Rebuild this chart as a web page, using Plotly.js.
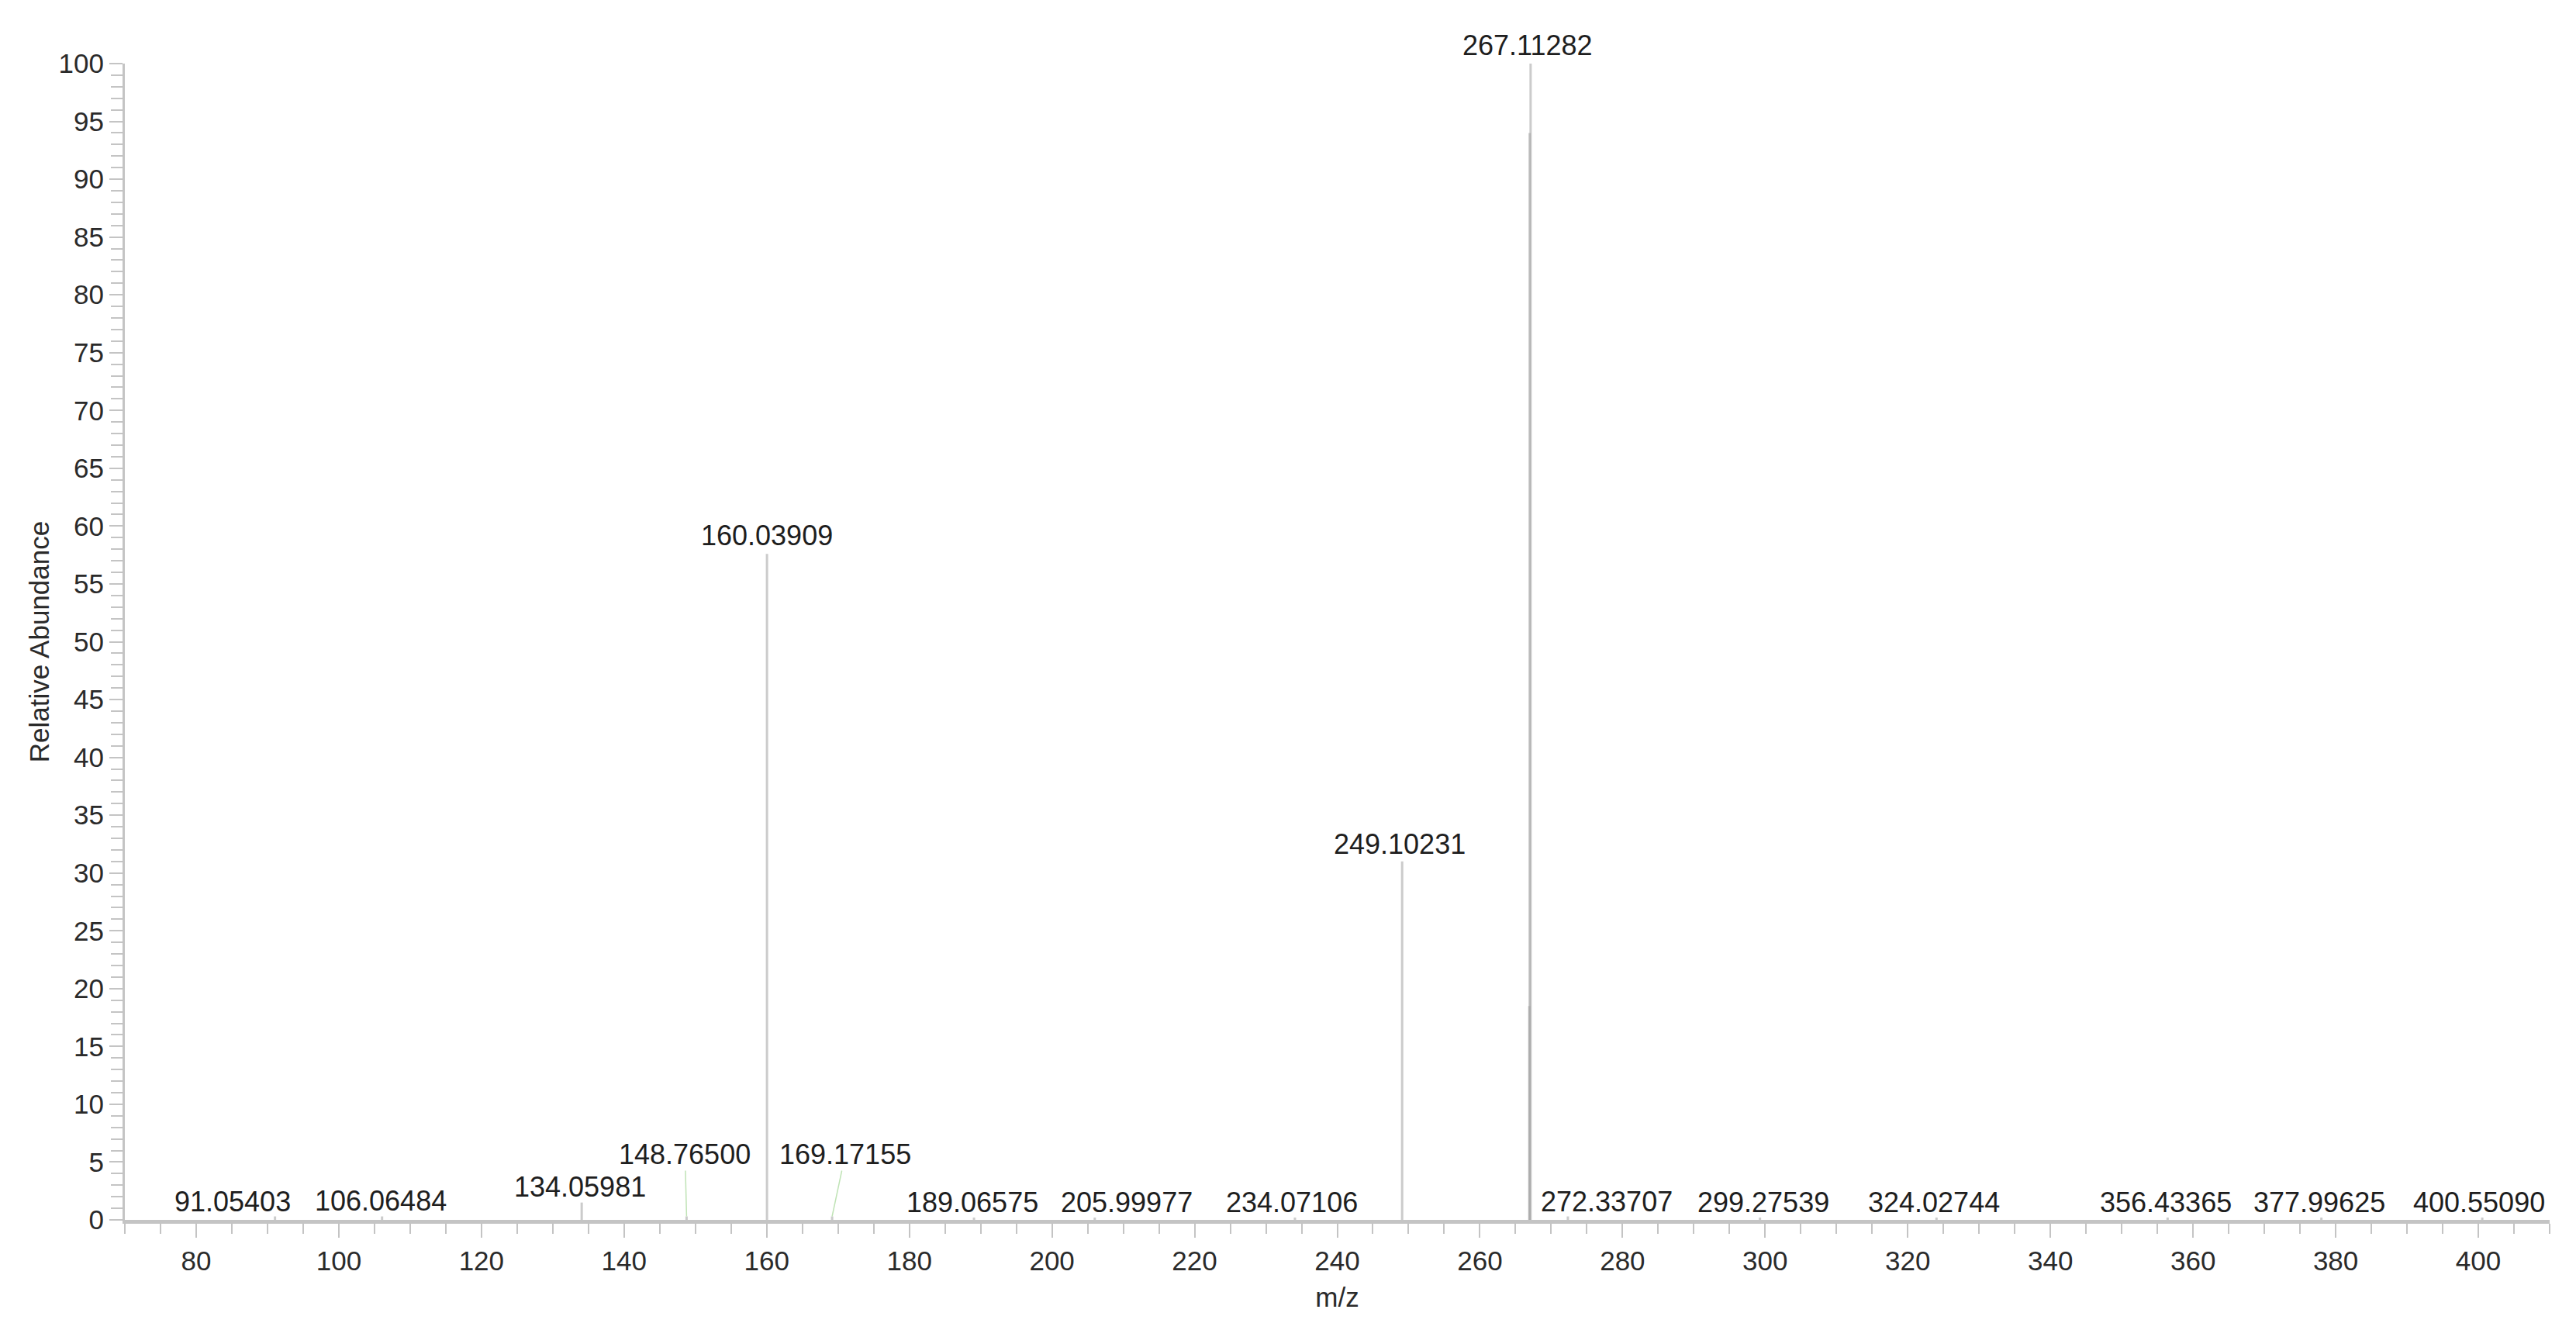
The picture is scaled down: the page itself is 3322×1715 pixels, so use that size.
<!DOCTYPE html>
<html>
<head>
<meta charset="utf-8">
<script src="https://cdn.plot.ly/plotly-3.0.1.min.js"></script>
<style>
  html, body { margin: 0; padding: 0; background: #ffffff; }
  #chart { width: 3322px; height: 1715px; }
</style>
</head>
<body>
<div id="chart"></div>
<script>
// ---- data ----
const peakMz = [91.05403, 106.06484, 134.05981, 148.76500, 160.03909, 169.17155, 189.06575, 205.99977,
                234.07106, 249.10231, 267.11282, 272.33707, 299.27539, 324.02744, 356.43365, 377.99625, 400.55090];
const peakAbundance = [0.3, 0.3, 1.5, 0.3, 57.6, 0.3, 0.2, 0.2,
                       0.2, 31.0, 100, 0.3, 0.2, 0.2, 0.2, 0.2, 0.2];
const peakLabels = ["91.05403", "106.06484", "134.05981", "148.76500", "160.03909", "169.17155", "189.06575", "205.99977",
                    "234.07106", "249.10231", "267.11282", "272.33707", "299.27539", "324.02744", "356.43365", "377.99625", "400.55090"];
// unlabelled profile sticks overlapping the base peak
const shoulderMz = [266.98, 266.93];
const shoulderAbundance = [94, 18.5];

const xTitle = "m/z";
const yTitle = "Relative Abundance";

// ---- label placement (pixel offsets of each label from its peak tip) ----
const labelOffsets = {
  "91.05403":  {dx: -55, dy: 19},
  "106.06484": {dx: -2,  dy: 20},
  "134.05981": {dx: -2,  dy: 20},
  "148.76500": {dx: -2,  dy: 80, leader: true},
  "160.03909": {dx: 0,   dy: 24},
  "169.17155": {dx: 17,  dy: 80, leader: true},
  "189.06575": {dx: -2,  dy: 20},
  "205.99977": {dx: 41,  dy: 20},
  "234.07106": {dx: -4,  dy: 20},
  "249.10231": {dx: -3,  dy: 22},
  "267.11282": {dx: -4,  dy: 24},
  "272.33707": {dx: 50,  dy: 19},
  "299.27539": {dx: 4,   dy: 20},
  "324.02744": {dx: -3,  dy: 20},
  "356.43365": {dx: -2,  dy: 20},
  "377.99625": {dx: -3,  dy: 20},
  "400.55090": {dx: -4,  dy: 20}
};

// ---- build stick traces ----
function sticks(xs, ys) {
  const sx = [], sy = [];
  xs.forEach((m, i) => { sx.push(m, m, null); sy.push(0, ys[i], null); });
  return {sx, sy};
}
const main = sticks(peakMz, peakAbundance);
const sh = sticks(shoulderMz, shoulderAbundance);

const stickStyle = {color: "rgba(160,160,160,0.55)", width: 3};

const traces = [
  {x: sh.sx, y: sh.sy, type: "scatter", mode: "lines", line: stickStyle, hoverinfo: "skip", showlegend: false, cliponaxis: false},
  {x: main.sx, y: main.sy, type: "scatter", mode: "lines", line: stickStyle, hoverinfo: "x+y", showlegend: false, cliponaxis: false}
];

const labelFont = {family: "Liberation Sans, Arial, sans-serif", size: 36, color: "#1e1e1e"};
const annotations = peakMz.map((m, i) => {
  const lab = peakLabels[i];
  const o = labelOffsets[lab];
  if (o.leader) {
    return {x: m, y: peakAbundance[i], xref: "x", yref: "y", text: lab, font: labelFont,
            showarrow: true, arrowhead: 0, arrowwidth: 1.5, arrowcolor: "#bfe3b5",
            ax: o.dx, ay: -o.dy, standoff: 0, borderpad: 0};
  }
  return {x: m, y: peakAbundance[i], xref: "x", yref: "y", text: lab, font: labelFont,
          showarrow: false, xanchor: "center", yanchor: "middle", xshift: o.dx, yshift: o.dy};
});

const tickFont = {family: "Liberation Sans, Arial, sans-serif", size: 35, color: "#2a2a2a"};

const layout = {
  width: 3322, height: 1715,
  paper_bgcolor: "#ffffff", plot_bgcolor: "#ffffff",
  margin: {l: 161, r: 34, t: 82, b: 142, autoexpand: false},
  showlegend: false,
  xaxis: {
    range: [70, 410], autorange: false,
    tick0: 0, dtick: 20,
    showgrid: false, zeroline: false,
    showline: true, linecolor: "#c4c4c4", linewidth: 5,
    ticks: "outside", ticklen: 18, tickwidth: 2, tickcolor: "#c4c4c4",
    minor: {dtick: 5, ticks: "outside", ticklen: 13, tickwidth: 2, tickcolor: "#c4c4c4", showgrid: false},
    tickfont: tickFont,
    title: {text: xTitle, font: {family: "Liberation Sans, Arial, sans-serif", size: 35, color: "#2a2a2a"}, standoff: 18},
    automargin: false
  },
  yaxis: {
    range: [0, 100], autorange: false,
    tick0: 0, dtick: 5,
    showgrid: false, zeroline: false,
    showline: true, linecolor: "#c4c4c4", linewidth: 3,
    ticks: "outside", ticklen: 17, tickwidth: 2, tickcolor: "#c4c4c4",
    minor: {dtick: 1, ticks: "outside", ticklen: 15, tickwidth: 2, tickcolor: "#c4c4c4", showgrid: false},
    tickfont: tickFont,
    title: {text: yTitle, font: {family: "Liberation Sans, Arial, sans-serif", size: 35, color: "#2a2a2a"}, standoff: 2},
    automargin: false
  },
  annotations: annotations
};

Plotly.newPlot("chart", traces, layout, {displayModeBar: false, staticPlot: true});
</script>
</body>
</html>
